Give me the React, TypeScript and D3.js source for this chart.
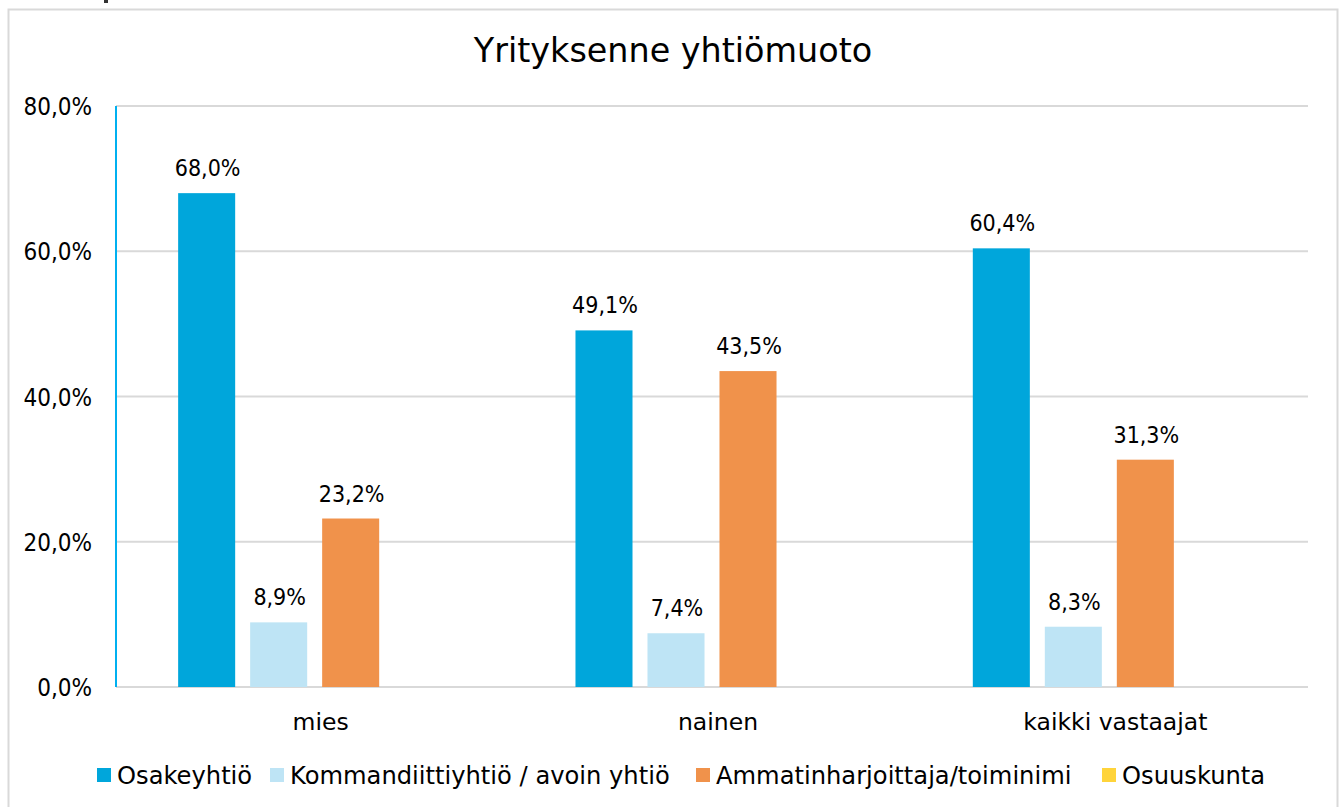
import React from "react";
import * as d3 from "d3";

const categories = ["mies", "nainen", "kaikki vastaajat"];
const seriesNames = [
  "Osakeyhtiö",
  "Kommandiittiyhtiö / avoin yhtiö",
  "Ammatinharjoittaja/toiminimi",
  "Osuuskunta",
];
const osakeyhtio = [68.0, 49.1, 60.4];
const kommandiitti = [8.9, 7.4, 8.3];
const ammatin = [23.2, 43.5, 31.3];
const osuuskunta = [0, 0, 0];
const seriesValues = [osakeyhtio, kommandiitti, ammatin, osuuskunta];
const colors = ["#00a6db", "#bee4f5", "#f0924b", "#ffd43b"];
const yTicks = [0, 20, 40, 60, 80];

const W = 1340;
const H = 807;
const FONT = "'DejaVu Sans', sans-serif";
const NUMFONT = "'DejaVu Sans Condensed', 'DejaVu Sans', sans-serif";

export default function App() {
  const left = 116;
  const right = 1308;
  const top = 106;
  const bottom = 687;
  const y = d3.scaleLinear().domain([0, 80]).range([bottom, top]);
  const x0 = d3.scaleBand<string>().domain(categories).range([left, right]).padding(0);
  const x1 = d3
    .scaleBand<string>()
    .domain(seriesNames)
    .range([0, x0.bandwidth()])
    .paddingInner(0.208)
    .paddingOuter(0.863);
  const fmt = (v: number) => v.toFixed(1).replace(".", ",") + "%";

  const legendX = [97, 270, 696, 1102];

  return (
    <svg
      width={W}
      height={H}
      style={{ position: "absolute", left: 0, top: 0, fontFamily: FONT }}
    >
      <rect x={0} y={0} width={W} height={H} fill="#ffffff" />
      <rect x={104} y={0} width={4} height={3} fill="#333" />
      <rect x={8.5} y={9.5} width={1329} height={820} fill="none" stroke="#d9d9d9" strokeWidth={2} />
      <text x={673} y={62} textAnchor="middle" fontSize={33.4} fill="#000">
        Yrityksenne yhtiömuoto
      </text>
      {yTicks.map((t) => (
        <g key={t}>
          <line x1={left} x2={right} y1={y(t)} y2={y(t)} stroke="#d9d9d9" strokeWidth={2} />
          <text x={92} y={y(t) + 9} textAnchor="end" fontSize={24} fontFamily={NUMFONT} fill="#000">
            {fmt(t)}
          </text>
        </g>
      ))}
      <line x1={left} x2={left} y1={top} y2={bottom} stroke="#00b0f0" strokeWidth={2} />
      {categories.map((c, ci) => (
        <g key={c}>
          {seriesNames.map((s, si) => {
            const v = seriesValues[si][ci];
            const bx = (x0(c) as number) + (x1(s) as number);
            return (
              <g key={s}>
                <rect x={bx} y={y(v)} width={x1.bandwidth()} height={bottom - y(v)} fill={colors[si]} />
                {v > 0 && (
                  <text
                    x={bx + x1.bandwidth() / 2 + 1}
                    y={y(v) - 17}
                    textAnchor="middle"
                    fontSize={23}
                    fontFamily={NUMFONT}
                    fill="#000"
                  >
                    {fmt(v)}
                  </text>
                )}
              </g>
            );
          })}
          <text
            x={(x0(c) as number) + x0.bandwidth() / 2 + 6}
            y={730}
            textAnchor="middle"
            fontSize={23.5}
            fill="#000"
          >
            {c}
          </text>
        </g>
      ))}
      {seriesNames.map((s, i) => (
        <g key={s}>
          <rect x={legendX[i]} y={768} width={14} height={14} fill={colors[i]} />
          <text x={legendX[i] + 20} y={784} fontSize={24.2} fill="#000">
            {s}
          </text>
        </g>
      ))}
    </svg>
  );
}
